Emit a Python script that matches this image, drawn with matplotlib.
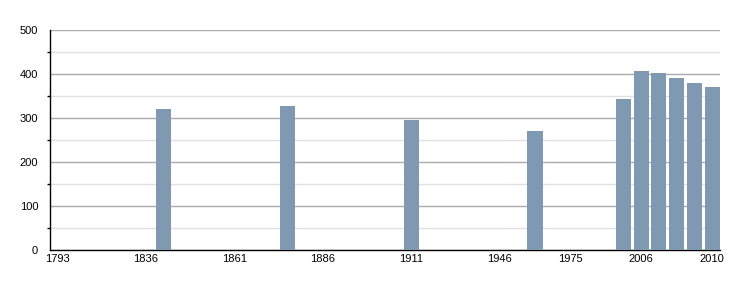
import numpy as np
import matplotlib
matplotlib.use('Agg')
import matplotlib.pyplot as plt
from matplotlib.ticker import MultipleLocator

plt.rcParams['font.family'] = ['Liberation Sans', 'DejaVu Sans']
plt.rcParams['font.size'] = 8

years = [1793, 1800, 1806, 1821, 1831, 1836, 1841, 1846, 1851, 1856,
         1861, 1866, 1872, 1876, 1881, 1886, 1891, 1896, 1901, 1906,
         1911, 1921, 1926, 1931, 1936, 1946, 1954, 1962, 1968, 1975,
         1982, 1990, 1999, 2006, 2007, 2008, 2009, 2010]
# population, nan where no figure is given
pop = {1841: 320, 1876: 327, 1911: 295, 1962: 270, 1999: 343,
       2006: 407, 2007: 402, 2008: 391, 2009: 379, 2010: 370}
values = [pop.get(y, np.nan) for y in years]
shown_labels = [1793, 1836, 1861, 1886, 1911, 1946, 1975, 2006, 2010]

bar_color = '#7f99b2'

fig = plt.figure(figsize=(7.5, 3), dpi=100)
ax = fig.add_axes([50/750, 50/300, 670/750, 220/300])

x = np.arange(len(years))
ax.bar(x, values, width=0.85, color=bar_color, zorder=3)

ax.set_xlim(-0.4, len(years) - 0.55)
ax.set_ylim(0, 500)

ax.yaxis.set_major_locator(MultipleLocator(100))
ax.yaxis.set_minor_locator(MultipleLocator(50))
ax.grid(axis='y', which='major', color='#aaaaaa', linewidth=1, zorder=0)
ax.grid(axis='y', which='minor', color='#e0e0e0', linewidth=1, zorder=0)
ax.tick_params(axis='y', which='major', length=0, colors='black', labelsize=8, pad=8.5)
ax.tick_params(axis='y', which='minor', length=2, width=1, colors='black')

tick_pos = [years.index(y) for y in shown_labels]
ax.set_xticks(tick_pos)
ax.set_xticklabels([str(y) for y in shown_labels])
ax.tick_params(axis='x', length=0, pad=3, labelsize=8)

for s in ['top', 'right']:
    ax.spines[s].set_visible(False)
ax.spines['left'].set_color('black')
ax.spines['bottom'].set_color('black')
ax.spines['left'].set_linewidth(1)
ax.spines['bottom'].set_linewidth(1)

fig.savefig('out.png', dpi=100)
